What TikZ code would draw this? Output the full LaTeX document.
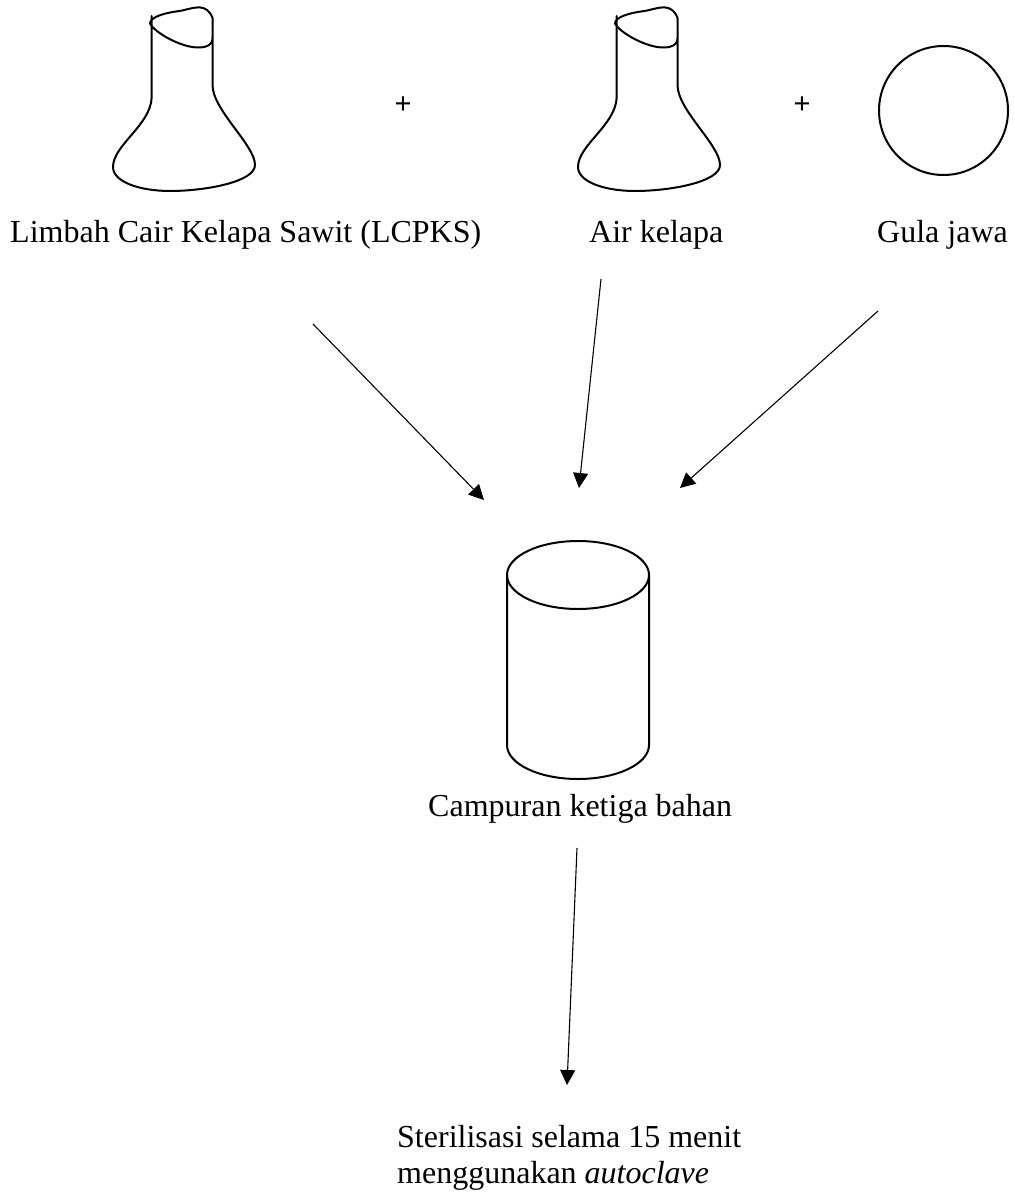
\documentclass[tikz,border=0pt]{standalone}
\usepackage{fontspec}
\setmainfont{Liberation Serif}
\newfontfamily\plusfont{Liberation Sans}
\usetikzlibrary{arrows.meta}
\tikzset{
  label text/.style={inner sep=0pt,anchor=base west,font=\fontsize{32}{38}\selectfont,text=black},
  plus text/.style={inner sep=0pt,anchor=center,font=\plusfont\fontsize{29}{34}\selectfont,text=black},
  shape line/.style={draw=black,line width=2pt,line join=round,line cap=round},
  flow/.style={draw=black,line width=1.1pt,-{Triangle[length=15pt,width=15pt]}},
  pics/flask/.style={code={
    \draw[shape line] (151.7,16) -- (151.7,97)
      .. controls (151,125) and (113,145) .. (113,167)
      .. controls (113,182) and (140,191) .. (170,191)
      .. controls (205,191) and (255,182) .. (255,165)
      .. controls (255,145) and (212.5,110) .. (212.5,85)
      -- (212.5,18)
      .. controls (210,11) and (205,7.3) .. (199,7.3)
      .. controls (192,7.3) and (185,10.5) .. (176,11.5)
      .. controls (165,13) and (150,17) .. (150,23.5)
      .. controls (155,33) and (182,48) .. (199,47.5)
      .. controls (207,47.3) and (212.5,45) .. (212.5,38);
  }}
}
\begin{document}
\begin{tikzpicture}[x=1pt,y=-1pt]
\useasboundingbox (0,0) rectangle (1014,1193);
\pic at (0,0) {flask};
\pic at (465,0) {flask};
\node[shape line,circle,minimum size=129pt,inner sep=0pt] (gula) at (943.5,110.5) {};
\node[plus text] (p1) at (403,105.6) {+};
\node[plus text] (p2) at (802,105.6) {+};
\node[label text] (t1) at (10,242) {Limbah Cair Kelapa Sawit (LCPKS)};
\node[label text] (t2) at (589,242) {Air kelapa};
\node[label text] (t3) at (877,242) {Gula jawa};
\draw[shape line] (507,575) arc[start angle=180,end angle=-180,x radius=71,y radius=34];
\draw[shape line] (507,575) -- (507,745) arc[start angle=180,end angle=0,x radius=71,y radius=34] -- (649,575);
\node[label text] (t4) at (428,816) {Campuran ketiga bahan};
\node[label text] (t5) at (397,1147) {Sterilisasi selama 15 menit};
\node[label text] (t6) at (397,1183) {menggunakan \textit{autoclave}};
\coordinate (a1) at (313,324); \coordinate (b1) at (484,500);
\coordinate (a2) at (601,279); \coordinate (b2) at (579,488);
\coordinate (a3) at (878,311); \coordinate (b3) at (680,488);
\coordinate (a4) at (577,848); \coordinate (b4) at (567,1085);
\draw[flow] (a1) -- (b1);
\draw[flow] (a2) -- (b2);
\draw[flow] (a3) -- (b3);
\draw[flow] (a4) -- (b4);
\end{tikzpicture}
\end{document}
